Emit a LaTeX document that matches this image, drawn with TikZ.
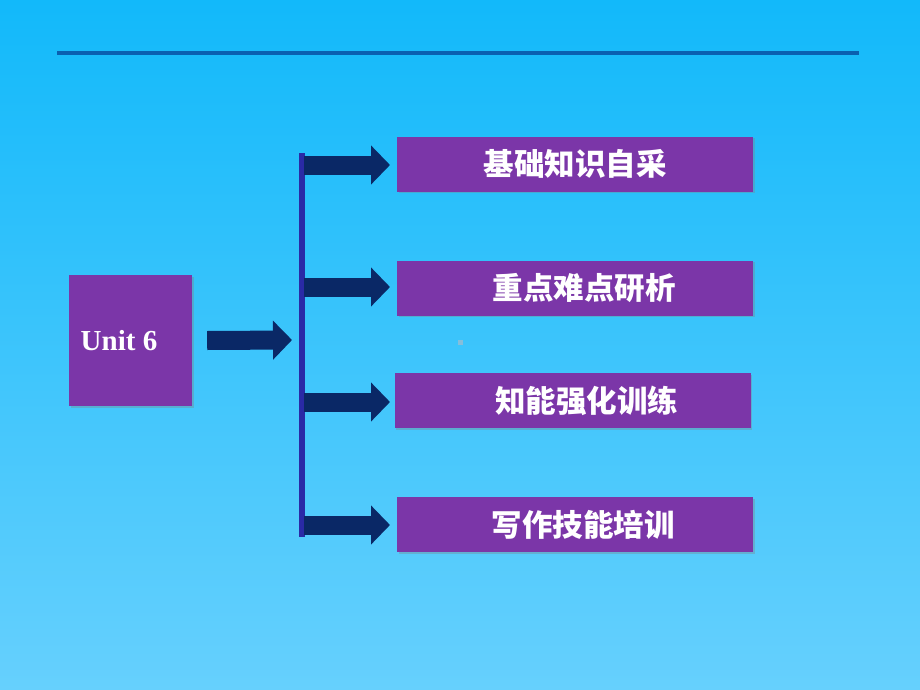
\documentclass[tikz,border=0pt]{standalone}
\usepackage{fontspec}
\setmainfont{Liberation Serif}
\newfontfamily\cjk{Noto Sans CJK SC}
\usetikzlibrary{arrows.meta,shadows}
\definecolor{bgtop}{HTML}{12B9FA}
\definecolor{bgbot}{HTML}{66D0FD}
\definecolor{rulecol}{HTML}{0A60B0}
\definecolor{boxcol}{HTML}{7B36A8}
\definecolor{arrcol}{HTML}{0A2866}
\definecolor{barcol}{HTML}{2A2AA6}
\definecolor{dotcol}{HTML}{86BEDA}
\tikzset{
  itembox/.style={fill=boxcol, minimum width=356pt, minimum height=55pt, inner sep=0pt,
    text=white, font=\cjk\bfseries\fontsize{30.5}{33}\selectfont,
    drop shadow={shadow xshift=1.5pt, shadow yshift=-1.5pt, opacity=0.35}},
  unitbox/.style={fill=boxcol, minimum width=123pt, minimum height=131pt, inner sep=0pt,
    text=white, font=\bfseries\fontsize{29}{32}\selectfont,
    drop shadow={shadow xshift=1.5pt, shadow yshift=-1.5pt, opacity=0.35}},
  blockarrow/.style={draw=arrcol, line width=19pt,
    -{Triangle[length=19pt, width=38pt]}},
  barline/.style={draw=barcol, line width=6pt},
}
\begin{document}
\begin{tikzpicture}[x=1pt,y=-1pt]
\shade[top color=bgtop, bottom color=bgbot] (0,0) rectangle (920,690);
\useasboundingbox (0,0) rectangle (920,690);
% top rule
\coordinate (rl) at (57,53);
\coordinate (rr) at (859,53);
\draw[rulecol, line width=4pt] (rl) -- (rr);
% boxes
\node[unitbox] (unit) at (130.5,340.5) {Unit 6\hspace*{23pt}};
\node[itembox] (b1) at (575,164) {基础知识自采};
\node[itembox] (b2) at (575,288) {\hspace*{18pt}重点难点研析};
\node[itembox] (b3) at (572.5,400.5) {\hspace*{28pt}知能强化训练};
\node[itembox] (b4) at (575,524.5) {\hspace*{16pt}写作技能培训};
% vertical bar
\coordinate (bartop) at (302,153);
\coordinate (barbot) at (302,537);
\draw[barline] (bartop) -- (barbot);
% arrows
\coordinate (m0) at ([xshift=15pt]unit.east);
\coordinate (m1) at (292,340);
\draw[blockarrow] (m0) -- (m1);
\coordinate (a1) at (304,165);
\coordinate (a2) at (304,287);
\coordinate (a3) at (304,402);
\coordinate (a4) at (304,525);
\draw[blockarrow] (a1) -- (a1 -| 390,0);
\draw[blockarrow] (a2) -- (a2 -| 390,0);
\draw[blockarrow] (a3) -- (a3 -| 390,0);
\draw[blockarrow] (a4) -- (a4 -| 390,0);
% tiny mark
\fill[dotcol] (458,340) rectangle (463,345);
\end{tikzpicture}
\end{document}
